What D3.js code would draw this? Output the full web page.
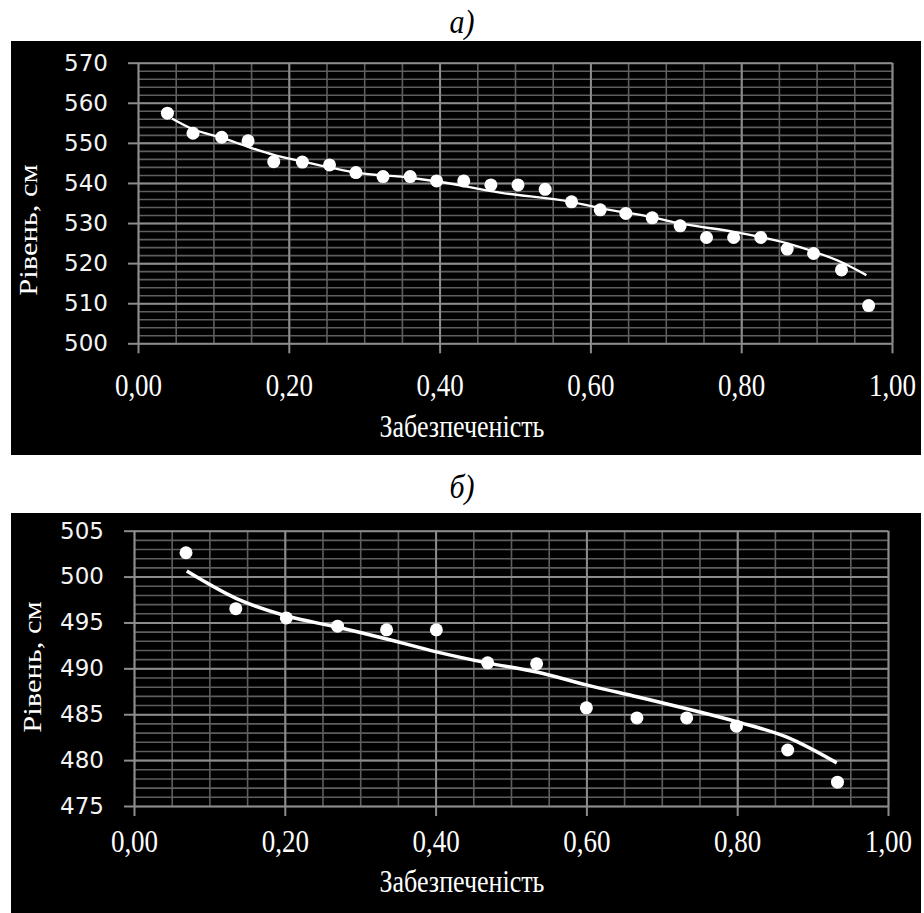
<!DOCTYPE html>
<html>
<head>
<meta charset="utf-8">
<script src="https://cdn.jsdelivr.net/npm/d3@7"></script>
<style>
  html, body { margin: 0; padding: 0; background: #fff; }
  svg { display: block; }
</style>
</head>
<body>
<svg id="chart" width="924" height="913"></svg>
<script>
// ---------- DATA ----------
const xTickValues = [0, 0.2, 0.4, 0.6, 0.8, 1.0];
const xTickLabels = ["0,00", "0,20", "0,40", "0,60", "0,80", "1,00"];

// Chart а)
const yTicksA = [500, 510, 520, 530, 540, 550, 560, 570];
const pointsAx = [0.039, 0.073, 0.111, 0.146, 0.180, 0.218, 0.254, 0.289, 0.325, 0.361, 0.396, 0.432, 0.468, 0.504,
                  0.540, 0.575, 0.613, 0.647, 0.682, 0.719, 0.754, 0.790, 0.826, 0.861, 0.896, 0.933, 0.969];
const pointsAy = [557.4, 552.4, 551.4, 550.5, 545.3, 545.2, 544.5, 542.6, 541.6, 541.6, 540.5, 540.5, 539.5, 539.5,
                  538.4, 535.3, 533.3, 532.4, 531.3, 529.3, 526.4, 526.4, 526.4, 523.5, 522.4, 518.3, 509.4];
const trendAx = [0.045, 0.073, 0.111, 0.146, 0.180, 0.215, 0.237, 0.289, 0.361, 0.400, 0.480, 0.574, 0.613, 0.683,
                 0.719, 0.790, 0.860, 0.896, 0.931, 0.966];
const trendAy = [556.1, 553.4, 551.3, 549.0, 547.0, 545.5, 544.6, 542.6, 541.3, 540.3, 537.6, 535.3, 533.7, 531.4,
                 529.9, 527.8, 525.0, 522.9, 520.4, 517.0];

// Chart б)
const yTicksB = [475, 480, 485, 490, 495, 500, 505];
const pointsBx = [0.069, 0.135, 0.202, 0.270, 0.335, 0.401, 0.469, 0.534, 0.600, 0.667, 0.733, 0.799, 0.867, 0.933];
const pointsBy = [502.6, 496.5, 495.5, 494.6, 494.2, 494.2, 490.6, 490.5, 485.7, 484.6, 484.6, 483.7, 481.1, 477.6];
const trendBx = [0.070, 0.136, 0.2025, 0.269, 0.335, 0.401, 0.468, 0.534, 0.600, 0.667, 0.733, 0.799, 0.866, 0.932];
const trendBy = [500.6, 497.6, 495.7, 494.5, 493.2, 491.8, 490.6, 489.6, 488.2, 486.9, 485.6, 484.2, 482.5, 479.7];

const panelTitles = ["а)", "б)"];
const xTitle = "Забезпеченість";
const yTitle = "Рівень, см";

// ---------- DRAW ----------
const svg = d3.select("#chart");
const SERIF = "'Liberation Serif', 'Times New Roman', serif";

function drawPanel(o) {
  const g = svg.append("g");
  // title above
  g.append("text")
    .attr("transform", `translate(${o.titleX},${o.titleY}) scale(1,1.15)`)
    .attr("text-anchor", "middle")
    .attr("font-family", SERIF)
    .attr("font-style", "italic")
    .attr("font-size", 30)
    .attr("fill", "#000")
    .text(o.title);

  // black background
  g.append("rect")
    .attr("x", o.box[0]).attr("y", o.box[1])
    .attr("width", o.box[2] - o.box[0]).attr("height", o.box[3] - o.box[1])
    .attr("fill", "#000");

  const x = d3.scaleLinear().domain([0, 1]).range([o.plot[0], o.plot[2]]);
  const y = d3.scaleLinear().domain(o.yDomain).range([o.plot[3], o.plot[1]]);
  const w = o.plot[2] - o.plot[0], h = o.plot[3] - o.plot[1];

  // minor grid
  const xMinor = d3.range(0, 1.0001, 0.05);
  const yMinor = d3.range(o.yDomain[0], o.yDomain[1] + 0.001, o.yMinorStep);
  g.append("g").attr("transform", `translate(0,${o.plot[3]})`)
    .call(d3.axisBottom(x).tickValues(xMinor).tickSize(-h).tickFormat(""))
    .call(s => s.select(".domain").remove())
    .selectAll("line").attr("stroke", "#5e5e5e").attr("stroke-width", 1.6);
  g.append("g").attr("transform", `translate(${o.plot[0]},0)`)
    .call(d3.axisLeft(y).tickValues(yMinor).tickSize(-w).tickFormat(""))
    .call(s => s.select(".domain").remove())
    .selectAll("line").attr("stroke", "#5e5e5e").attr("stroke-width", 1.6);

  // major grid
  g.append("g").attr("transform", `translate(0,${o.plot[3]})`)
    .call(d3.axisBottom(x).tickValues(xTickValues).tickSize(-h).tickFormat(""))
    .call(s => s.select(".domain").remove())
    .selectAll("line").attr("stroke", "#8c8c8c").attr("stroke-width", 2);
  g.append("g").attr("transform", `translate(${o.plot[0]},0)`)
    .call(d3.axisLeft(y).tickValues(o.yTicks).tickSize(-w).tickFormat(""))
    .call(s => s.select(".domain").remove())
    .selectAll("line").attr("stroke", "#8c8c8c").attr("stroke-width", 2);

  // axes with outward ticks and labels
  const xa = g.append("g").attr("transform", `translate(0,${o.plot[3]})`)
    .call(d3.axisBottom(x).tickValues(xTickValues).tickSize(10)
      .tickFormat((d, i) => xTickLabels[i]));
  xa.select(".domain").remove();
  xa.selectAll("line").attr("stroke", "#8c8c8c").attr("stroke-width", 2);
  xa.selectAll("text")
    .attr("y", null).attr("dy", null)
    .attr("transform", `translate(0,${o.xLabelBase}) scale(1,1.18)`)
    .attr("fill", "#fff")
    .attr("font-family", SERIF)
    .attr("font-size", 27);

  const ya = g.append("g").attr("transform", `translate(${o.plot[0]},0)`)
    .call(d3.axisLeft(y).tickValues(o.yTicks).tickSize(10).tickPadding(20));
  ya.select(".domain").remove();
  ya.selectAll("line").attr("stroke", "#8c8c8c").attr("stroke-width", 2);
  ya.selectAll("text").attr("fill", "#f4f4f4")
    .attr("font-family", "'DejaVu Sans', sans-serif")
    .attr("font-size", 23);

  // axis titles
  g.append("text")
    .attr("transform", `translate(${o.xTitlePos[0]},${o.xTitlePos[1]}) scale(1,1.22)`)
    .attr("text-anchor", "middle")
    .attr("font-family", SERIF)
    .attr("font-size", 26).attr("fill", "#fff")
    .text(xTitle);
  g.append("text")
    .attr("transform", `translate(${o.yTitlePos[0]},${o.yTitlePos[1]}) rotate(-90) scale(1.22,1)`)
    .attr("text-anchor", "middle")
    .attr("dominant-baseline", "central")
    .attr("font-family", SERIF)
    .attr("font-size", 25).attr("fill", "#fff")
    .text(yTitle);

  // trend line
  const trend = o.tx.map((v, i) => [v, o.ty[i]]);
  g.append("path")
    .datum(trend)
    .attr("fill", "none")
    .attr("stroke", "#fff")
    .attr("stroke-width", o.lineW)
    .attr("d", d3.line().x(d => x(d[0])).y(d => y(d[1])).curve(d3.curveMonotoneX));

  // points
  const pts = o.px.map((v, i) => [v, o.py[i]]);
  g.append("g").selectAll("circle").data(pts).join("circle")
    .attr("cx", d => x(d[0])).attr("cy", d => y(d[1]))
    .attr("r", 6.5).attr("fill", "#fff");
}

drawPanel({
  title: panelTitles[0], titleX: 462, titleY: 33,
  box: [11, 41, 921, 455],
  plot: [138, 62.7, 892, 343.3],
  yDomain: [500, 570], yTicks: yTicksA, yMinorStep: 2,
  xLabelBase: 53,
  xTitlePos: [462, 437], yTitlePos: [28, 230],
  px: pointsAx, py: pointsAy, tx: trendAx, ty: trendAy, lineW: 2.3
});

drawPanel({
  title: panelTitles[1], titleX: 462, titleY: 498,
  box: [11, 513, 921, 913],
  plot: [134, 530.7, 888, 806],
  yDomain: [475, 505], yTicks: yTicksB, yMinorStep: 1,
  xLabelBase: 46,
  xTitlePos: [462, 892], yTitlePos: [32, 667],
  px: pointsBx, py: pointsBy, tx: trendBx, ty: trendBy, lineW: 3.5
});
</script>
</body>
</html>
